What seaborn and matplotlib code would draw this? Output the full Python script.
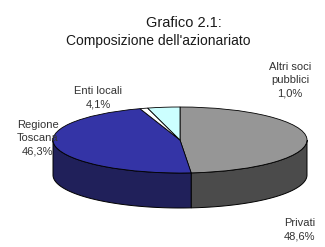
import numpy as np
import matplotlib
matplotlib.use("Agg")
import matplotlib.pyplot as plt
import seaborn as sns

# data
labels = ["Privati", "Regione\nToscana", "Altri soci\npubblici", "Enti locali"]
shares = [48.6, 46.3, 1.0, 4.1]
pct_labels = ["48,6%", "46,3%", "1,0%", "4,1%"]
top_colors = ["#969696", "#3434a6", "#ffffff", "#ccffff"]
side_colors = ["#4b4b4b", "#20205a", "#bdbdbd", "#8fbcbc"]

sns.set_theme(style="white")
plt.rcParams["font.family"] = ["Liberation Sans", "DejaVu Sans"]

W, H = 325, 247
cx, cy = 180, 140      # pie centre in pixels
rx, ry = 127, 33       # ellipse half axes in pixels
depth = 35 / ry        # wall height in y units

fig = plt.figure(figsize=(W / 100, H / 100), dpi=100)
ax = fig.add_axes([0, 0, 1, 1])

# side walls (front half only)
frac = np.array(shares) / np.sum(shares)
cum = np.concatenate([[0], np.cumsum(frac)])
for i in range(len(shares)):
    t_lo = 90 - 360 * cum[i + 1]
    t_hi = 90 - 360 * cum[i]
    for off in (0, -360):
        lo = max(t_lo, -180 + off)
        hi = min(t_hi, 0 + off)
        if hi <= lo:
            continue
        t = np.radians(np.linspace(lo, hi, 80))
        xs = np.concatenate([np.cos(t), np.cos(t[::-1])])
        ys = np.concatenate([np.sin(t), np.sin(t[::-1]) - depth])
        ax.fill(xs, ys, facecolor=side_colors[i], edgecolor="black", linewidth=0.7)

# top face
ax.pie(shares, colors=top_colors, startangle=90, counterclock=False,
       radius=1, center=(0, 0),
       wedgeprops=dict(edgecolor="black", linewidth=0.6))

ax.set_aspect("auto")
ax.set_xlim(-cx / rx, (W - cx) / rx)
ax.set_ylim(-(H - cy) / ry, cy / ry)
ax.axis("off")

# titles
fig.text(184 / W, 1 - 23 / H, "Grafico 2.1:", ha="center", va="center",
         fontsize=10.5, color="#1a1a1a")
fig.text(158 / W, 1 - 41 / H, "Composizione dell'azionariato", ha="center",
         va="center", fontsize=10, color="#1a1a1a")

# slice labels
label_pos = [(300, 230), (38, 138), (290, 80), (98, 98)]
for lab, pct, (px, py) in zip(labels, pct_labels, label_pos):
    fig.text(px / W, 1 - py / H, lab + "\n" + pct, ha="center", va="center",
             fontsize=8, color="#333333", linespacing=1.4)

fig.savefig("out.png", dpi=100)
